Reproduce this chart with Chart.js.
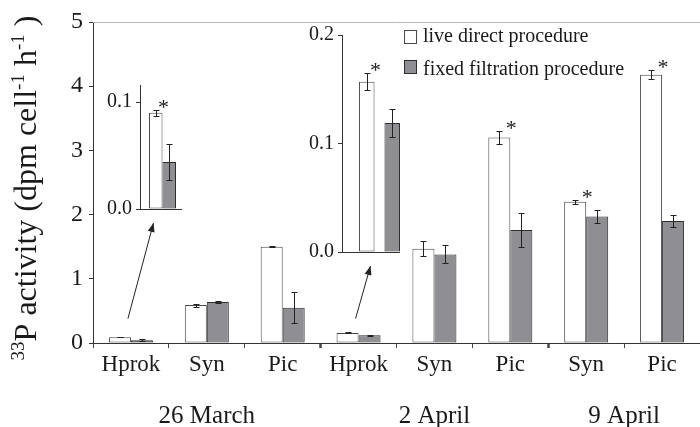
<!DOCTYPE html>
<html>
<head>
<meta charset="utf-8">
<title>33P activity per cell</title>
<script src="https://cdn.jsdelivr.net/npm/chart.js@4.4.0/dist/chart.umd.min.js"></script>
<style>
  html, body { margin: 0; padding: 0; background: #fff; }
  #wrap { position: relative; width: 700px; height: 427px; }
  #wrap canvas { position: absolute; }
  #mainChart { left: 0; top: 0; z-index: 1; }
  #inset1 { left: 95px; top: 67px; z-index: 2; }
  #inset2 { left: 297px; top: 17px; z-index: 2; }
</style>
</head>
<body>
<div id="wrap">
  <canvas id="mainChart" width="700" height="427"></canvas>
  <canvas id="inset1" width="90" height="160"></canvas>
  <canvas id="inset2" width="120" height="253"></canvas>
</div>
<script>
// Data
const categories = ['Hprok', 'Syn', 'Pic', 'Hprok', 'Syn', 'Pic', 'Syn', 'Pic'];
const dateLabels = ['26 March', '2 April', '9 April'];
const dateGroupSize = [3, 3, 2];

const seriesLabels = ['live direct procedure', 'fixed filtration procedure'];
const liveValues = [0.090, 0.59, 1.50, 0.157, 1.47, 3.20, 2.20, 4.18];
const liveErrors = [0.003, 0.025, 0.01, 0.008, 0.12, 0.10, 0.03, 0.075];
const liveSignificant = [true, false, false, true, false, true, true, true];
const fixedValues = [0.044, 0.64, 0.55, 0.119, 1.38, 1.76, 1.97, 1.90];
const fixedErrors = [0.017, 0.01, 0.24, 0.013, 0.14, 0.26, 0.10, 0.09];

// main axis 0..5, insets zoom on the Hprok bars
const yMax = 5;
const yStep = 1;
const insetCategories = [0, 3];
const insetMax = [0.116, 0.2];
const insetStep = 0.1;
const arrowFromValue = 0.38;

const yTitleParts = [
  { text: '33', sup: true },
  { text: 'P activity (dpm cell' },
  { text: '-1', sup: true },
  { text: ' h' },
  { text: '-1', sup: true },
  { text: ' )' }
];

const SERIF = '"Liberation Serif", "DejaVu Serif", serif';
Chart.defaults.font.family = SERIF;
Chart.defaults.color = '#1a1a1a';

const liveFill = '#ffffff';
const liveBorder = '#4a4a4a';
const fixedFill = '#8e8e93';
const fixedBorder = '#2e2e2e';

// error bars + asterisks for significant differences
const errorBarPlugin = {
  id: 'errorBars',
  afterDatasetsDraw(chart) {
    const ctx = chart.ctx;
    const yScale = chart.scales.y;
    ctx.save();
    ctx.strokeStyle = '#222';
    ctx.lineWidth = 1;
    chart.data.datasets.forEach((ds, i) => {
      const meta = chart.getDatasetMeta(i);
      meta.data.forEach((bar, j) => {
        const v = ds.data[j];
        const e = ds.err[j];
        const top = Math.round(yScale.getPixelForValue(v + e)) + 0.5;
        const bot = Math.round(yScale.getPixelForValue(Math.max(v - e, 0))) + 0.5;
        const x = Math.round(bar.x) + 0.5;
        ctx.beginPath();
        ctx.moveTo(x, top); ctx.lineTo(x, bot);
        ctx.moveTo(x - 3, top); ctx.lineTo(x + 3, top);
        ctx.moveTo(x - 3, bot); ctx.lineTo(x + 3, bot);
        ctx.stroke();
        if (ds.sig && ds.sig[j]) {
          ctx.fillStyle = '#222';
          ctx.font = '22px ' + SERIF;
          ctx.textAlign = 'center';
          ctx.textBaseline = 'alphabetic';
          ctx.fillText('*', bar.x + bar.width / 2 + 1, top + 3);
        }
      });
    });
    ctx.restore();
  }
};

// baseline of the insets, stops just after the last bar
const insetBaselinePlugin = {
  id: 'insetBaseline',
  afterDatasetsDraw(chart, args, opts) {
    const ctx = chart.ctx;
    const area = chart.chartArea;
    const lastMeta = chart.getDatasetMeta(chart.data.datasets.length - 1);
    const bar = lastMeta.data[0];
    const end = bar.x + bar.width / 2 + (opts.extra || 0);
    ctx.save();
    ctx.strokeStyle = '#333';
    ctx.lineWidth = 1;
    ctx.beginPath();
    ctx.moveTo(area.left, Math.round(area.bottom) + 0.5);
    ctx.lineTo(end, Math.round(area.bottom) + 0.5);
    ctx.stroke();
    ctx.restore();
  }
};

function makeInset(canvasId, n) {
  const cat = insetCategories[n];
  return new Chart(document.getElementById(canvasId), {
    type: 'bar',
    data: {
      labels: [categories[cat]],
      datasets: [
        {
          label: seriesLabels[0],
          data: [liveValues[cat]],
          err: [liveErrors[cat]],
          sig: [liveSignificant[cat]],
          backgroundColor: liveFill,
          borderColor: liveBorder,
          borderWidth: 1,
          borderSkipped: false
        },
        {
          label: seriesLabels[1],
          data: [fixedValues[cat]],
          err: [fixedErrors[cat]],
          backgroundColor: fixedFill,
          borderColor: fixedBorder,
          borderWidth: 1,
          borderSkipped: false
        }
      ]
    },
    options: {
      responsive: false,
      animation: false,
      events: [],
      categoryPercentage: n === 0 ? 0.6 : 0.68,
      barPercentage: n === 0 ? 1 : 0.61,
      layout: { padding: { top: 18, bottom: 18, left: 0, right: 0 } },
      plugins: {
        legend: { display: false },
        tooltip: { enabled: false },
        insetBaseline: { extra: n === 0 ? 6 : 0 }
      },
      scales: {
        x: {
          ticks: { display: false },
          grid: { display: false },
          border: { display: false },
          afterFit: s => { s.height = 0; }
        },
        y: {
          min: 0,
          max: insetMax[n],
          ticks: {
            stepSize: insetStep,
            includeBounds: false,
            padding: 4,
            font: { size: 20 },
            callback: v => v.toFixed(1)
          },
          grid: { drawOnChartArea: false, tickLength: 4, tickColor: '#333' },
          border: { color: '#333' },
          afterFit: s => { s.width = 45; }
        }
      }
    },
    plugins: [errorBarPlugin, insetBaselinePlugin]
  });
}

const inset1 = makeInset('inset1', 0);
const inset2 = makeInset('inset2', 1);
const insets = [inset1, inset2];

// extra drawing on the main chart: frame top, y title, dates, legend, arrows
const decorPlugin = {
  id: 'decor',
  afterDraw(chart) {
    const ctx = chart.ctx;
    const area = chart.chartArea;
    const xs = chart.scales.x;
    const ys = chart.scales.y;
    ctx.save();

    // light top frame
    ctx.strokeStyle = '#b8b8b8';
    ctx.lineWidth = 1;
    ctx.beginPath();
    ctx.moveTo(area.left, Math.round(area.top) + 0.5);
    ctx.lineTo(area.right, Math.round(area.top) + 0.5);
    ctx.stroke();

    // y title with superscripts
    ctx.fillStyle = '#1a1a1a';
    ctx.textBaseline = 'alphabetic';
    ctx.textAlign = 'left';
    const big = '32px ' + SERIF;
    const small = '19px ' + SERIF;
    let total = 0;
    yTitleParts.forEach(p => {
      ctx.font = p.sup ? small : big;
      p.w = ctx.measureText(p.text).width;
      total += p.w;
    });
    ctx.translate(36, 188);
    ctx.rotate(-Math.PI / 2);
    let px = -total / 2;
    yTitleParts.forEach(p => {
      ctx.font = p.sup ? small : big;
      ctx.fillText(p.text, px, p.sup ? -12 : 0);
      px += p.w;
    });
    ctx.setTransform(1, 0, 0, 1, 0, 0);

    // date groups
    ctx.font = '25px ' + SERIF;
    ctx.textAlign = 'center';
    let start = 0;
    dateLabels.forEach((d, g) => {
      const first = start;
      const last = start + dateGroupSize[g] - 1;
      const cx = (xs.getPixelForValue(first) + xs.getPixelForValue(last)) / 2;
      ctx.fillText(d, cx, 423);
      start += dateGroupSize[g];
    });

    // legend
    ctx.font = '20px ' + SERIF;
    ctx.textAlign = 'left';
    chart.data.datasets.forEach((ds, i) => {
      const bx = 404.5, by = 30.5 + i * 30;
      ctx.fillStyle = ds.backgroundColor;
      ctx.fillRect(bx, by, 12, 13);
      ctx.strokeStyle = ds.borderColor;
      ctx.strokeRect(bx, by, 12, 13);
      ctx.fillStyle = '#1a1a1a';
      ctx.fillText(ds.label, 423, by + 11 + i * 3);
    });

    // arrows from the small Hprok bars to their insets
    ctx.strokeStyle = '#222';
    ctx.fillStyle = '#222';
    insets.forEach((inset, n) => {
      const cat = insetCategories[n];
      const x0 = xs.getPixelForValue(cat) - 3;
      const y0 = ys.getPixelForValue(arrowFromValue);
      const cv = inset.canvas;
      const ix = cv.offsetLeft + inset.scales.x.getPixelForValue(0) - 9;
      const iy = cv.offsetTop + inset.chartArea.bottom + 14;
      ctx.beginPath();
      ctx.moveTo(x0, y0);
      ctx.lineTo(ix, iy);
      ctx.stroke();
      const ang = Math.atan2(iy - y0, ix - x0);
      ctx.beginPath();
      ctx.moveTo(ix, iy);
      ctx.lineTo(ix - 9 * Math.cos(ang) + 3.5 * Math.sin(ang), iy - 9 * Math.sin(ang) - 3.5 * Math.cos(ang));
      ctx.lineTo(ix - 9 * Math.cos(ang) - 3.5 * Math.sin(ang), iy - 9 * Math.sin(ang) + 3.5 * Math.cos(ang));
      ctx.closePath();
      ctx.fill();
    });

    ctx.restore();
  }
};

const mainChart = new Chart(document.getElementById('mainChart'), {
  type: 'bar',
  data: {
    labels: categories,
    datasets: [
      {
        label: seriesLabels[0],
        data: liveValues,
        err: liveErrors,
        sig: liveSignificant.map((s, i) => s && !insetCategories.includes(i)),
        backgroundColor: liveFill,
        borderColor: liveBorder,
        borderWidth: 1,
        borderSkipped: false
      },
      {
        label: seriesLabels[1],
        data: fixedValues,
        err: fixedErrors,
        backgroundColor: fixedFill,
        borderColor: fixedBorder,
        borderWidth: 1,
        borderSkipped: false
      }
    ]
  },
  options: {
    responsive: false,
    animation: false,
    events: [],
    categoryPercentage: 0.58,
    barPercentage: 1,
    layout: { padding: { top: 22, right: 0, left: 0, bottom: 0 } },
    plugins: {
      legend: { display: false },
      tooltip: { enabled: false }
    },
    scales: {
      x: {
        grid: {
          offset: true,
          drawOnChartArea: false,
          tickLength: 5,
          tickColor: '#444',
          tickWidth: c => (c.index === 3 || c.index === 6) ? 2.5 : 1
        },
        border: { color: '#333' },
        ticks: { font: { size: 23 }, padding: 3 },
        afterFit: s => { s.height = 84; }
      },
      y: {
        min: 0,
        max: yMax,
        ticks: { stepSize: yStep, font: { size: 24 }, padding: 6 },
        grid: { drawOnChartArea: false, tickLength: 4, tickColor: '#333' },
        border: { color: '#333' },
        afterFit: s => { s.width = 93; }
      }
    }
  },
  plugins: [errorBarPlugin, decorPlugin]
});
</script>
</body>
</html>
